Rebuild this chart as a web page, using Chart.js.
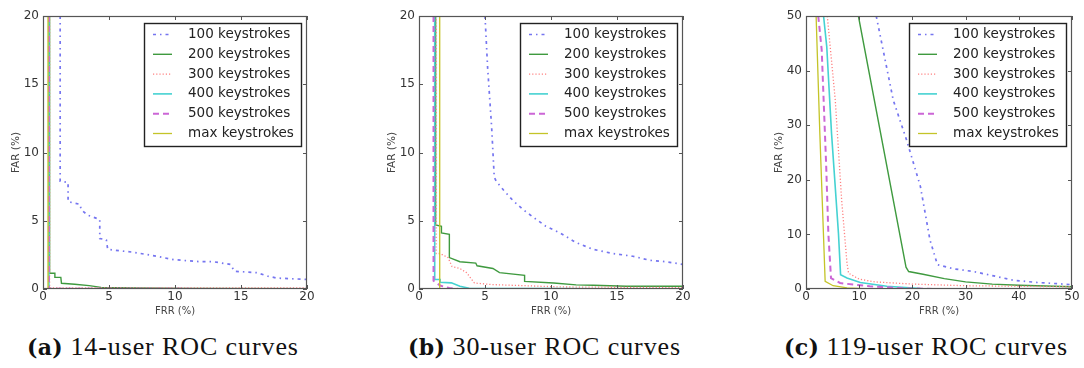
<!DOCTYPE html>
<html>
<head>
<meta charset="utf-8">
<script src="https://cdn.jsdelivr.net/npm/chart.js@4"></script>
<style>
  body { margin: 0; background: #fff; width: 1084px; height: 368px; overflow: hidden; position: relative; }
  .panel { position: absolute; top: 0; width: 360px; height: 318px; }
  .cap { position: absolute; top: 332px; font-family: "Liberation Serif", serif; font-size: 26px; color: #111; white-space: nowrap; letter-spacing: 0.9px; }
  .cap b { font-family: "DejaVu Serif", serif; font-size: 22px; letter-spacing: 0.3px; }
</style>
</head>
<body>
<div class="panel" style="left:0px"><canvas id="chartA"></canvas></div>
<div class="panel" style="left:376px"><canvas id="chartB"></canvas></div>
<div class="panel" style="left:763px"><canvas id="chartC"></canvas></div>
<div class="cap" style="left:27px"><b>(a)</b> 14-user ROC curves</div>
<div class="cap" style="left:408px"><b>(b)</b> 30-user ROC curves</div>
<div class="cap" style="left:784px"><b>(c)</b> 119-user ROC curves</div>
<script>
const seriesLabels = ['100 keystrokes', '200 keystrokes', '300 keystrokes', '400 keystrokes', '500 keystrokes', 'max keystrokes'];

// (a) 14 users, [FRR, FAR]
const a100 = [[1.3,20],[1.3,7.9],[1.9,7.8],[1.9,6.4],[2.8,6.2],[2.9,5.8],[3.4,5.4],[4.3,5.1],[4.3,3.7],[4.8,3.6],[4.9,2.9],[6.8,2.7],[8.6,2.4],[9.9,2.15],[11.9,2.0],[12.9,2.0],[14.2,1.8],[14.5,1.3],[16.2,1.2],[17,0.95],[17.7,0.8],[20,0.7]];
const a200 = [[0.5,20],[0.5,1.15],[0.9,1.15],[0.9,0.85],[1.35,0.85],[1.4,0.42],[2.4,0.35],[3.5,0.25],[4.4,0.12],[7,0.08],[11,0.04],[20,0.02]];
const a300 = [[0.5,20],[0.5,0.08],[20,0.08]];
const a400 = [[0.45,20],[0.45,0],[20,0]];
const a500 = [[0.45,20],[0.45,0.02],[20,0]];
const aMax = [[0.38,20],[0.38,0],[20,0]];

// (b) 30 users
const b100 = [[5.0,20],[5.2,16.2],[5.5,11.9],[5.7,8.2],[5.85,7.9],[6.4,7.25],[7.1,6.5],[7.9,5.8],[8.6,5.3],[9.6,4.6],[10.7,4.1],[11.9,3.4],[13.2,2.9],[14.7,2.6],[16.2,2.4],[17.5,2.1],[18.7,2.0],[20,1.8]];
const b200 = [[1.26,20],[1.26,4.7],[1.7,4.6],[1.7,4.1],[2.3,4.0],[2.3,2.3],[3.1,2.0],[4.3,1.9],[4.4,1.7],[5.6,1.5],[6.1,1.2],[8.0,1.0],[8.0,0.56],[10.2,0.44],[11.9,0.3],[13.2,0.27],[15.7,0.2],[20,0.2]];
const b300 = [[1.3,20],[1.3,2.6],[1.6,2.6],[2.2,2.3],[2.5,1.65],[3.1,1.5],[3.6,1.2],[4.2,0.44],[5.6,0.32],[8.1,0.24],[10.7,0.15],[20,0.1]];
const b400 = [[1.19,20],[1.19,0.7],[1.6,0.7],[1.6,0.5],[2.45,0.45],[3.1,0.2],[3.8,0.05],[20,0]];
const b500 = [[1.1,20],[1.1,0.6],[1.6,0.25],[2.3,0.07],[3,0],[20,0]];
const bMax = [[1.57,20],[1.57,0],[20,0]];

// (c) 119 users
const c100 = [[13.2,50],[16.4,34.6],[18.9,27.3],[21.5,18.8],[23.3,9.0],[24.7,4.45],[27.7,3.7],[31.5,3.2],[35.3,2.4],[39,1.6],[43.4,1.2],[50,0.8]];
const c200 = [[9.85,50],[18.8,4.0],[19.3,3.2],[22,2.7],[26,1.9],[30,1.3],[35,0.9],[40,0.7],[50,0.4]];
const c300 = [[4.0,50],[5.5,34.6],[6.7,16.3],[7.7,4.8],[8,2.9],[10,1.8],[13,1.3],[20,0.9],[30,0.6],[50,0.4]];
const c400 = [[3.3,50],[3.9,44.4],[4.8,28.5],[6.1,10.2],[6.5,2.6],[7.7,2.0],[10.2,1.2],[15.2,0.5],[21.5,0.1],[50,0.05]];
const c500 = [[2.3,50],[2.95,43.8],[3.8,22.4],[4.2,10.2],[4.7,2.0],[6.4,1.1],[8.9,0.8],[12,0.5],[18.3,0.12],[25,0],[50,0]];
const cMax = [[1.9,50],[2.6,28.5],[3.6,1.4],[5.1,0.6],[7.7,0.2],[12,0],[50,0]];

const ticks20 = [0, 5, 10, 15, 20];
const ticks50 = [0, 10, 20, 30, 40, 50];

const styles = [
    {color: '#7575f0', dash: [3, 4, 1.5, 4], width: 1.7},
    {color: '#3f9a3f', dash: [], width: 1.4},
    {color: '#ff8080', dash: [1.2, 2], width: 1.3},
    {color: '#45d2d2', dash: [], width: 1.6},
    {color: '#cc66d6', dash: [6, 4], width: 2},
    {color: '#c4c428', dash: [], width: 1.3}
];

// matplotlib-like frame with inward ticks on all four sides
const framePlugin = {
    id: 'frame',
    afterDatasetsDraw(chart) {
        const {ctx, chartArea: a, scales: {x, y}} = chart;
        ctx.save();
        ctx.strokeStyle = '#555';
        ctx.lineWidth = 1;
        ctx.beginPath();
        x.ticks.forEach(t => {
            const px = Math.round(x.getPixelForValue(t.value)) + 0.5;
            ctx.moveTo(px, a.bottom); ctx.lineTo(px, a.bottom - 4);
            ctx.moveTo(px, a.top); ctx.lineTo(px, a.top + 4);
        });
        y.ticks.forEach(t => {
            const py = Math.round(y.getPixelForValue(t.value)) + 0.5;
            ctx.moveTo(a.left, py); ctx.lineTo(a.left + 4, py);
            ctx.moveTo(a.right, py); ctx.lineTo(a.right - 4, py);
        });
        ctx.stroke();
        ctx.lineWidth = 1.2;
        ctx.strokeRect(Math.round(a.left) + 0.5, Math.round(a.top) + 0.5, Math.round(a.width) - 1, Math.round(a.height) - 1);
        ctx.restore();
    }
};

// legend drawn inside the axes, top right, with a box
const boxLegend = {
    id: 'boxLegend',
    afterDraw(chart) {
        const {ctx, chartArea: a} = chart;
        const w = 157, h = 123;
        const left = a.right - 6 - w, top = a.top + 7;
        ctx.save();
        ctx.fillStyle = '#fff';
        ctx.fillRect(left, top, w, h);
        ctx.strokeStyle = '#222';
        ctx.lineWidth = 1.4;
        ctx.strokeRect(Math.round(left) + 0.5, Math.round(top) + 0.5, w, h);
        ctx.font = '13.5px "DejaVu Sans"';
        ctx.textBaseline = 'middle';
        chart.data.datasets.forEach((ds, i) => {
            const yy = top + 11.5 + i * 19.8;
            ctx.strokeStyle = ds.borderColor;
            ctx.lineWidth = ds.borderWidth;
            ctx.setLineDash(ds.borderDash);
            ctx.beginPath();
            ctx.moveTo(left + 9, yy);
            ctx.lineTo(left + 28, yy);
            ctx.stroke();
            ctx.setLineDash([]);
            ctx.fillStyle = '#222';
            ctx.fillText(ds.label, left + 44, yy);
        });
        ctx.restore();
    }
};

function makeChart(id, series, xMax, yMax, xTicks, yTicks, padRight) {
    new Chart(document.getElementById(id), {
        type: 'scatter',
        data: {
            datasets: series.map((pts, i) => ({
                label: seriesLabels[i],
                data: pts.map(p => ({x: p[0], y: p[1]})),
                showLine: true,
                pointRadius: 0,
                borderColor: styles[i].color,
                borderWidth: styles[i].width,
                borderDash: styles[i].dash,
                tension: 0,
                order: -i // later series on top, like matplotlib
            }))
        },
        options: {
            responsive: true,
            maintainAspectRatio: false,
            animation: false,
            events: [],
            layout: {padding: {left: 0, top: 16, right: padRight, bottom: 0}},
            plugins: {legend: {display: false}, tooltip: {enabled: false}},
            scales: {
                x: {
                    type: 'linear', min: 0, max: xMax,
                    afterBuildTicks: s => { s.ticks = xTicks.map(v => ({value: v})); },
                    afterFit: s => { s.height = 29; },
                    grid: {display: false, drawTicks: false},
                    border: {display: false},
                    ticks: {color: '#333', font: {family: 'DejaVu Sans', size: 12}, padding: 1, maxRotation: 0},
                    title: {display: true, text: 'FRR (%)', color: '#444', font: {family: 'DejaVu Sans', size: 10}, padding: {top: 0, bottom: 1}}
                },
                y: {
                    type: 'linear', min: 0, max: yMax,
                    afterBuildTicks: s => { s.ticks = yTicks.map(v => ({value: v})); },
                    afterFit: s => { s.width = 43; },
                    grid: {display: false, drawTicks: false},
                    border: {display: false},
                    ticks: {color: '#333', font: {family: 'DejaVu Sans', size: 12}, padding: 4},
                    title: {display: true, text: 'FAR (%)', color: '#444', font: {family: 'DejaVu Sans', size: 10.5}, padding: {top: 10, bottom: 0}}
                }
            }
        },
        plugins: [framePlugin, boxLegend]
    });
}

makeChart('chartA', [a100, a200, a300, a400, a500, aMax], 20, 20, ticks20, ticks20, 53);
makeChart('chartB', [b100, b200, b300, b400, b500, bMax], 20, 20, ticks20, ticks20, 53);
makeChart('chartC', [c100, c200, c300, c400, c500, cMax], 50, 50, ticks50, ticks50, 51);
</script>
</body>
</html>
